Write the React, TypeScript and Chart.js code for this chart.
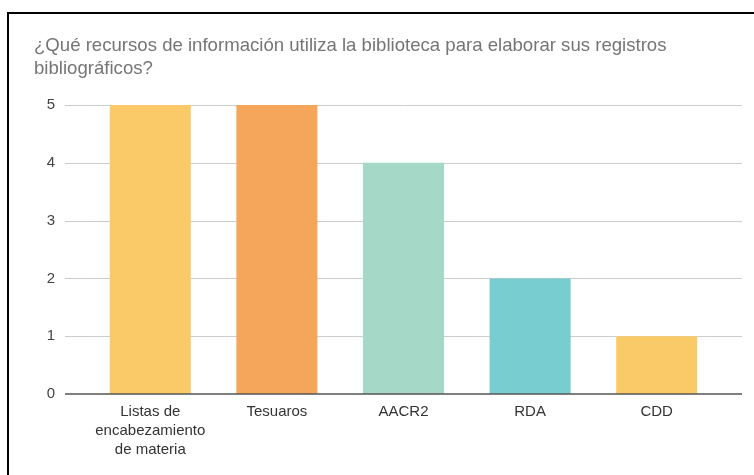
import React, { useEffect, useRef } from "react";
import { Chart, registerables } from "chart.js";

Chart.register(...registerables);

const titleLines = [
  "¿Qué recursos de información utiliza la biblioteca para elaborar sus registros",
  "bibliográficos?",
];
const categories: (string | string[])[] = [
  ["Listas de", "encabezamiento", "de materia"],
  "Tesuaros",
  "AACR2",
  "RDA",
  "CDD",
];
const values = [5, 5, 4, 2, 1];
const barColors = ["#fbca68", "#f6a65b", "#a5d8c6", "#78cdd1", "#fbca68"];
const yTicks = [0, 1, 2, 3, 4, 5];

const FONT = "'Liberation Sans', Arial, sans-serif";

const gridPlugin = {
  id: "extendedGrid",
  beforeDatasetsDraw(chart: any) {
    const { ctx, chartArea, scales } = chart;
    const y = scales.y;
    const ext = 22;
    ctx.save();
    yTicks.forEach((v) => {
      if (v === 0) return;
      const py = Math.round(y.getPixelForValue(v));
      ctx.strokeStyle = "#cccccc";
      ctx.lineWidth = 1;
      ctx.beginPath();
      ctx.moveTo(chartArea.left - ext, py + 0.5);
      ctx.lineTo(chartArea.right + ext, py + 0.5);
      ctx.stroke();
    });
    ctx.restore();
  },
  afterDatasetsDraw(chart: any) {
    const { ctx, chartArea, scales } = chart;
    const y = scales.y;
    const ext = 22;
    const py = Math.round(y.getPixelForValue(0));
    ctx.save();
    ctx.strokeStyle = "#555555";
    ctx.lineWidth = 1.5;
    ctx.beginPath();
    ctx.moveTo(chartArea.left - ext, py);
    ctx.lineTo(chartArea.right + ext, py);
    ctx.stroke();
    ctx.restore();
  },
};

export default function App() {
  const ref = useRef<HTMLCanvasElement>(null);

  useEffect(() => {
    if (!ref.current) return;
    const chart = new Chart(ref.current, {
      type: "bar",
      data: {
        labels: categories,
        datasets: [
          {
            data: values,
            backgroundColor: barColors,
            borderWidth: 0,
            barPercentage: 0.8,
            categoryPercentage: 0.8,
          },
        ],
      },
      options: {
        responsive: false,
        animation: false,
        layout: { padding: { top: 13, left: 34, right: 34, bottom: 0 } },
        plugins: {
          legend: { display: false },
          tooltip: { enabled: false },
          title: {
            display: true,
            text: titleLines,
            align: "start",
            color: "#757575",
            font: { family: FONT, size: 18.6, weight: "normal", lineHeight: "23px" },
            padding: { top: 21.5, bottom: 24.5 },
          },
        },
        scales: {
          x: {
            grid: { display: false, drawTicks: false },
            border: { display: false },
            ticks: {
              color: "#333333",
              padding: 8,
              font: { family: FONT, size: 15, lineHeight: "19px" },
              maxRotation: 0,
              autoSkip: false,
            },
            afterFit(scale: any) {
              scale.height = 81;
            },
          },
          y: {
            min: 0,
            max: 5,
            grid: { display: false, drawTicks: false },
            border: { display: false },
            ticks: {
              stepSize: 1,
              color: "#444444",
              padding: 32,
              font: { family: FONT, size: 15 },
            },
            afterFit(scale: any) {
              scale.width = 53;
            },
          },
        },
      },
      plugins: [gridPlugin],
    });
    return () => chart.destroy();
  }, []);

  return (
    <div
      style={{
        position: "fixed",
        left: 0,
        top: 0,
        width: 754,
        height: 475,
        background: "#ffffff",
        overflow: "hidden",
      }}
    >
      <canvas
        ref={ref}
        width={754}
        height={475}
        style={{ position: "absolute", left: 0, top: 0, width: 754, height: 475 }}
      />
      <div
        style={{
          position: "absolute",
          left: 7,
          top: 12,
          width: 800,
          height: 500,
          borderLeft: "2px solid #000",
          borderTop: "2px solid #000",
          pointerEvents: "none",
        }}
      />
    </div>
  );
}
